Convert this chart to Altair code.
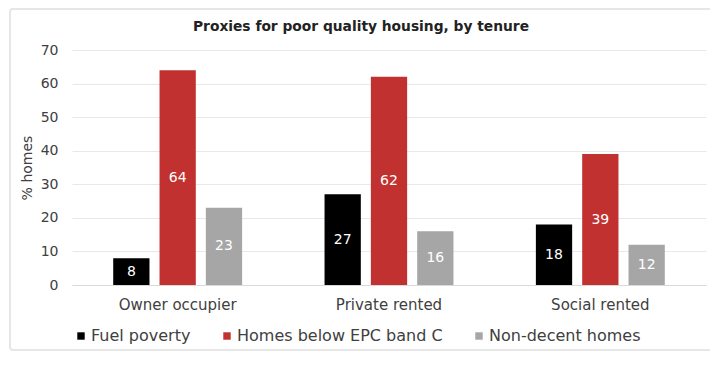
import altair as alt
import pandas as pd

title_text = "Proxies for poor quality housing, by tenure"
tenures = ["Owner occupier", "Private rented", "Social rented"]
series = ["Fuel poverty", "Homes below EPC band C", "Non-decent homes"]
fuel_poverty = [8, 27, 18]
below_epc_c = [64, 62, 39]
non_decent = [23, 16, 12]
colors = ["#000000", "#C0312F", "#A6A6A6"]
y_ticks = [0, 10, 20, 30, 40, 50, 60, 70]

rows = []
for i, t in enumerate(tenures):
    for s, vals in zip(series, [fuel_poverty, below_epc_c, non_decent]):
        rows.append({"tenure": t, "series": s, "value": vals[i]})
df = pd.DataFrame(rows)

FONT = "DejaVu Sans"
TXT = "#404040"

x = alt.X("tenure:N", sort=tenures, title=None,
          scale=alt.Scale(paddingInner=0.39, paddingOuter=0.195),
          axis=alt.Axis(labelAngle=0, labelFontSize=15, labelColor=TXT,
                        labelPadding=12, ticks=False, domainColor="#D9D9D9"))
xo = alt.XOffset("series:N", sort=series,
                 scale=alt.Scale(paddingInner=0.217, paddingOuter=0))

y_axis = alt.Axis(values=y_ticks, labelFontSize=14, labelColor=TXT,
                  titleFontSize=14, titleFontWeight="normal", titleColor=TXT,
                  domain=False, ticks=False, gridColor="#E8E8E8",
                  labelPadding=14, titlePadding=6)
y_scale = alt.Scale(domain=[0, 70], nice=False)

base = alt.Chart(df)

bars = base.mark_bar().encode(
    x=x, xOffset=xo,
    y=alt.Y("value:Q", title="% homes", scale=y_scale, axis=y_axis),
    color=alt.Color("series:N", sort=series,
                    scale=alt.Scale(domain=series, range=colors),
                    legend=alt.Legend(title=None, orient="none", legendX=1, legendY=278,
                                      direction="horizontal", symbolType="square",
                                      symbolSize=55, labelFontSize=16, labelColor=TXT,
                                      columnPadding=28, symbolOffset=0, labelOffset=2,
                                      labelLimit=300)),
)

labels = base.transform_calculate(mid="datum.value / 2").mark_text(
    color="white", fontSize=14, font=FONT
).encode(
    x=x, xOffset=xo,
    y=alt.Y("mid:Q", title="% homes", scale=y_scale, axis=y_axis),
    text=alt.Text("value:Q"),
)

border = alt.Chart(pd.DataFrame({"a": [0]})).mark_rect(
    fill=None, stroke="#E6E6E6", strokeWidth=2, cornerRadius=3, clip=False
).encode(x=alt.value(-62), x2=alt.value(640), y=alt.value(-41), y2=alt.value(300))

title = alt.Chart(pd.DataFrame({"t": [title_text]})).mark_text(
    font=FONT, fontSize=13.8, fontWeight="bold", color="#222222", clip=False,
    align="center", baseline="middle"
).encode(x=alt.value(289), y=alt.value(-23), text="t:N")

chart = alt.layer(border, bars, labels, title).properties(
    width=634, height=235,
    padding={"left": 64, "top": 42, "right": 4, "bottom": 78},
    autosize=alt.AutoSizeParams(type="none"),
).configure(font=FONT).configure_view(stroke=None)

chart.save("out.html", embed_options={"renderer": "svg", "actions": False})
